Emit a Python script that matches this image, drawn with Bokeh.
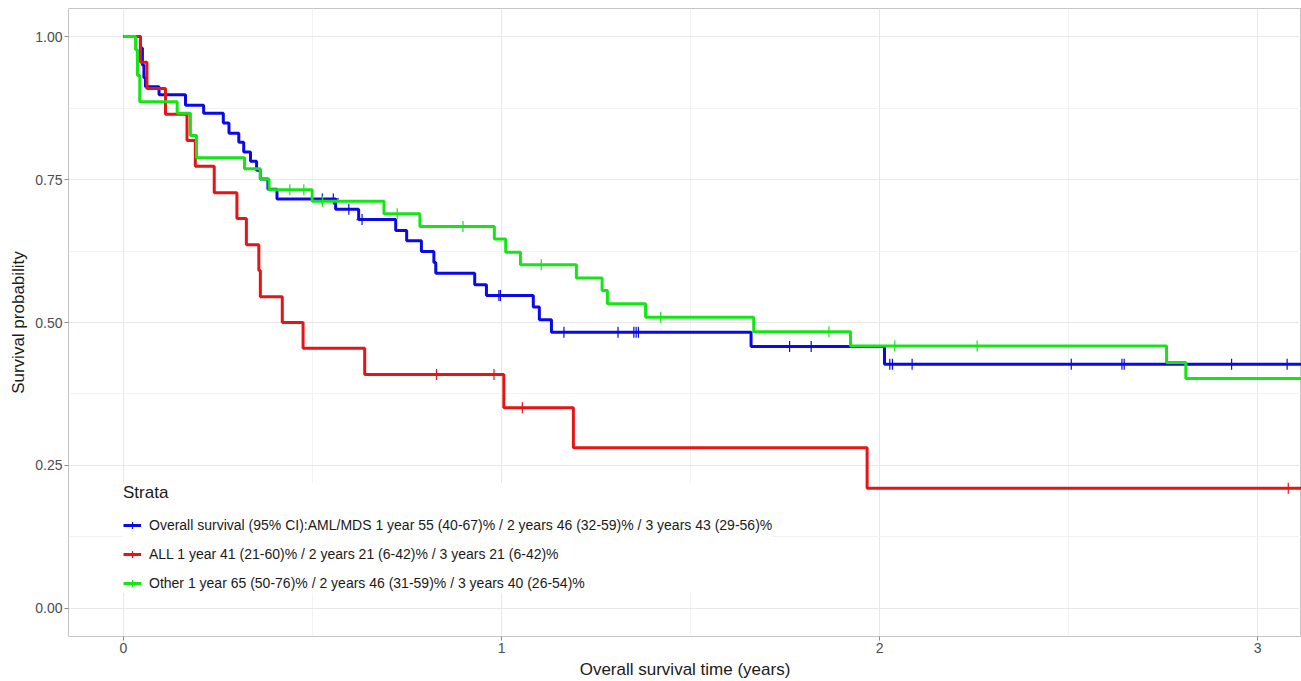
import numpy as np
from bokeh.plotting import figure
from bokeh.models import (FixedTicker, NumeralTickFormatter, Legend, LegendItem, Range1d)
from bokeh.embed import file_html
from bokeh.resources import INLINE

# ---- data ----
aml_time = [0, 0.045, 0.050, 0.054, 0.058, 0.094, 0.164, 0.212, 0.264, 0.279, 0.305, 0.318,
            0.336, 0.352, 0.362, 0.382, 0.406, 0.561, 0.622, 0.720, 0.749, 0.788, 0.821,
            0.826, 0.929, 0.960, 1.084, 1.100, 1.132, 1.660, 2.013, 3.20]
aml_surv = [1.0, 0.980, 0.950, 0.928, 0.912, 0.898, 0.880, 0.866, 0.849, 0.831, 0.815, 0.798,
            0.782, 0.766, 0.751, 0.733, 0.716, 0.698, 0.680, 0.661, 0.643, 0.624, 0.605,
            0.586, 0.566, 0.547, 0.527, 0.505, 0.483, 0.458, 0.427, 0.427]
aml_cens = [0.526, 0.555, 0.596, 0.631, 0.993, 0.997, 1.165, 1.308, 1.350, 1.356, 1.362,
            1.762, 1.819, 2.027, 2.034, 2.086, 2.507, 2.641, 2.647, 2.931, 3.078]

all_time = [0, 0.045, 0.062, 0.111, 0.168, 0.190, 0.240, 0.300, 0.325, 0.358, 0.362, 0.420,
            0.475, 0.638, 1.006, 1.190, 1.967, 3.20]
all_surv = [1.0, 0.955, 0.909, 0.864, 0.818, 0.773, 0.727, 0.682, 0.636, 0.591, 0.545, 0.500,
            0.455, 0.409, 0.351, 0.281, 0.210, 0.210]
all_cens = [0.828, 0.980, 1.055, 3.081]

oth_time = [0, 0.032, 0.037, 0.043, 0.142, 0.177, 0.193, 0.320, 0.362, 0.385, 0.499, 0.689,
            0.784, 0.981, 1.011, 1.050, 1.198, 1.266, 1.280, 1.381, 1.667, 1.923, 2.759,
            2.810, 3.20]
oth_surv = [1.0, 0.977, 0.932, 0.886, 0.866, 0.827, 0.788, 0.769, 0.751, 0.732, 0.712, 0.690,
            0.668, 0.646, 0.623, 0.601, 0.578, 0.556, 0.533, 0.509, 0.484, 0.459, 0.430,
            0.402, 0.402]
oth_cens = [0.440, 0.477, 0.526, 0.724, 0.898, 1.105, 1.421, 1.866, 2.040, 2.258]

labels = [
    "Overall survival (95% CI):AML/MDS 1 year 55 (40-67)% / 2 years 46 (32-59)% / 3 years 43 (29-56)%",
    "ALL 1 year 41 (21-60)% / 2 years 21 (6-42)% / 3 years 21 (6-42)%",
    "Other 1 year 65 (50-76)% / 2 years 46 (31-59)% / 3 years 40 (26-54)%",
]
colors = ["#0a0ae6", "#e61414", "#14e614"]

x_ticks = [0, 1, 2, 3]
y_ticks = [0.0, 0.25, 0.5, 0.75, 1.0]

FONT = "Liberation Sans"

p = figure(width=1301, height=681, output_backend="svg", toolbar_location=None,
           x_range=Range1d(-0.1455, 3.116), y_range=Range1d(-0.049, 1.049),
           min_border_left=68, min_border_right=0, min_border_top=8, min_border_bottom=45)

p.background_fill_color = "white"
p.border_fill_color = "white"
p.outline_line_color = "#c4c4c4"
p.outline_line_width = 1

p.xaxis.ticker = FixedTicker(ticks=x_ticks, minor_ticks=[0.5, 1.5, 2.5])
p.yaxis.ticker = FixedTicker(ticks=y_ticks, minor_ticks=[0.125, 0.375, 0.625, 0.875])
p.yaxis.formatter = NumeralTickFormatter(format="0.00")

for ax in (p.xaxis[0], p.yaxis[0]):
    ax.axis_line_color = None
    ax.major_tick_line_color = "#8a8a8a"
    ax.major_tick_out = 4
    ax.major_tick_in = 0
    ax.minor_tick_line_color = None
    ax.major_label_text_font = FONT
    ax.major_label_text_font_size = "14px"
    ax.major_label_text_color = "#4d4d4d"
    ax.major_label_standoff = 2
    ax.axis_label_text_font = FONT
    ax.axis_label_text_font_size = "17px"
    ax.axis_label_text_font_style = "normal"
    ax.axis_label_text_color = "#1a1a1a"
    ax.axis_label_standoff = 4

p.xaxis.axis_label = "Overall survival time (years)"
p.yaxis.axis_label = "Survival probability"

p.xgrid.grid_line_color = "#e8e8e8"
p.ygrid.grid_line_color = "#e8e8e8"
p.xgrid.minor_grid_line_color = "#f2f2f2"
p.ygrid.minor_grid_line_color = "#f2f2f2"
p.xgrid.grid_line_width = 1
p.ygrid.grid_line_width = 1

series = [(aml_time, aml_surv, aml_cens), (all_time, all_surv, all_cens),
          (oth_time, oth_surv, oth_cens)]
items = []
for (t, s, c), col, lab in zip(series, colors, labels):
    lr = p.step(t, s, mode="after", line_color=col, line_width=3)
    ta = np.array(t)
    sa = np.array(s)
    idx = np.searchsorted(ta, np.array(c), side="right") - 1
    cr = p.scatter(c, sa[idx], marker="cross", size=11, line_color=col, line_width=1.2)
    items.append(LegendItem(label=lab, renderers=[lr, cr]))

legend = Legend(items=items, location=(55, 43), title="Strata",
                title_text_font=FONT, title_text_font_size="17px", title_text_font_style="normal",
                title_text_color="#1a1a1a", title_standoff=12,
                label_text_font=FONT, label_text_font_size="14px", label_text_color="#1a1a1a",
                label_height=20, glyph_height=20, glyph_width=18, label_standoff=8,
                spacing=9, padding=0, margin=0,
                border_line_color=None, background_fill_color="white", background_fill_alpha=1.0)
p.add_layout(legend, "center")

open("out.html", "w").write(file_html(p, INLINE))
